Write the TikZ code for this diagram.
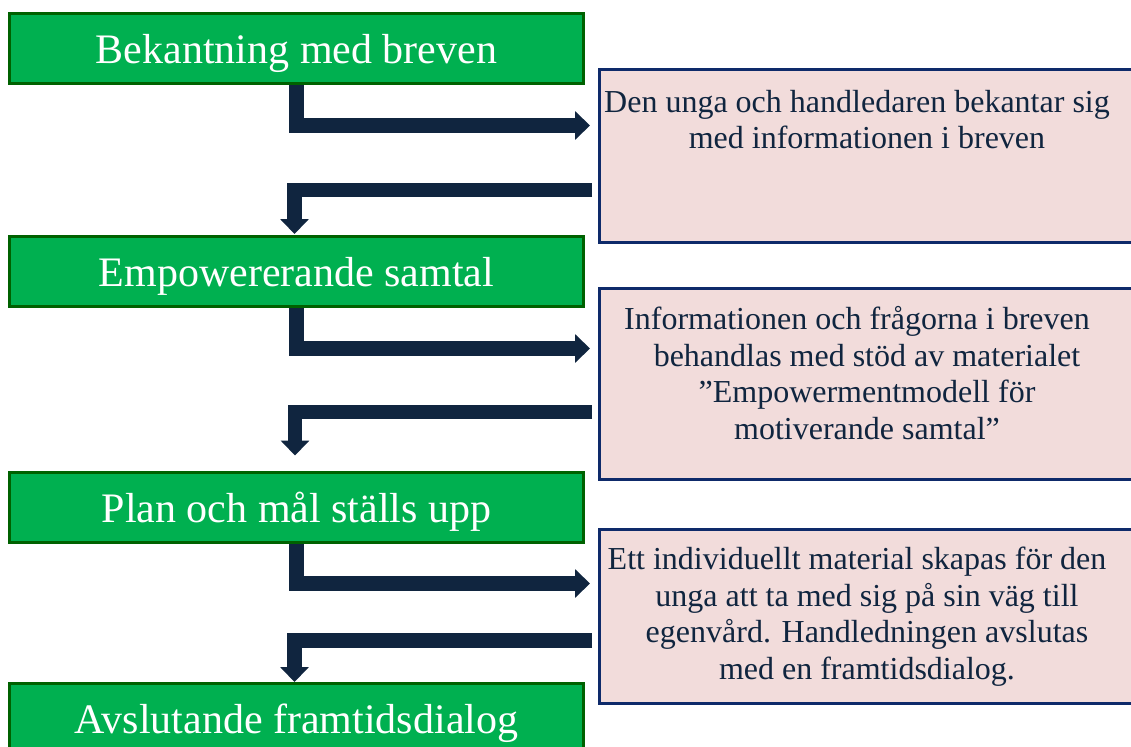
\documentclass[tikz,border=0pt]{standalone}
\usepackage{fontspec}
\setmainfont{Liberation Serif}
\usetikzlibrary{arrows.meta,calc}
\definecolor{gfill}{HTML}{00B050}
\definecolor{gline}{HTML}{006100}
\definecolor{pfill}{HTML}{F2DCDB}
\definecolor{pline}{HTML}{0E2A6A}
\definecolor{navy}{HTML}{10253F}
\begin{document}
\begin{tikzpicture}[x=1pt,y=-1pt,
  stepbox/.style={draw=gline, fill=gfill, line width=3pt, text=white,
    font=\fontsize{42}{48}\selectfont, inner sep=0pt,
    text height=40pt, text depth=10pt,
    minimum width=574pt, minimum height=70pt},
  notebox/.style={draw=pline, fill=pfill, line width=3pt, inner sep=0pt,
    minimum width=547pt},
  notetext/.style={text=navy, font=\fontsize{32}{36.5}\selectfont,
    align=center, inner sep=0pt, anchor=north},
  flow/.style={draw=navy, line width=14.5pt, line join=miter,
    -{Triangle[width=28pt,length=15pt]}}
]
\useasboundingbox (0,0) rectangle (1131,746);

% green step boxes
\node[stepbox] (g1) at (296.5,48.5) {Bekantning med breven};
\node[stepbox] (g2) at (296.5,271.5) {Empowererande samtal};
\node[stepbox] (g3) at (296.5,507) {Plan och mål ställs upp};
\node[stepbox] (g4) at (296.5,718.5) {Avslutande framtidsdialog};

% pink note boxes
\node[notebox, minimum height=173pt] (p1) at (872.5,156) {};
\node[notebox, minimum height=191.5pt] (p2) at (872.5,383.75) {};
\node[notebox, minimum height=174pt] (p3) at (872.5,616.5) {};

\node[notetext] (t1) at (867,90)
  {Den unga och handledaren bekantar sig\hspace*{20pt}\\
   med informationen i breven};
\node[notetext] (t2) at (867,306.5)
  {Informationen och frågorna i breven\hspace*{20pt}\\
   behandlas med stöd av materialet\\
   ”Empowermentmodell för\\
   motiverande samtal”};
\node[notetext] (t3) at (867,547)
  {Ett individuellt material skapas för den\hspace*{20pt}\\
   unga att ta med sig på sin väg till\\
   egenvård. Handledningen avslutas\\
   med en framtidsdialog.};

% connectors
\draw[flow] (g1.south) |- ($(p1.north west)+(-7.5,57.5)$);
\draw[flow] ($(p1.north west)+(-5.5,122)$) -| ($(g2.north)+(-2,-1)$);
\draw[flow] (g2.south) |- ($(p2.north west)+(-7.5,62)$);
\draw[flow] ($(p2.north west)+(-5.5,125.5)$) -| ($(g3.north)+(-1.5,-15)$);
\draw[flow] (g3.south) |- ($(p3.north west)+(-7.5,55.5)$);
\draw[flow] ($(p3.north west)+(-5.5,112.5)$) -| ($(g4.north)+(-2,0)$);
\end{tikzpicture}
\end{document}
